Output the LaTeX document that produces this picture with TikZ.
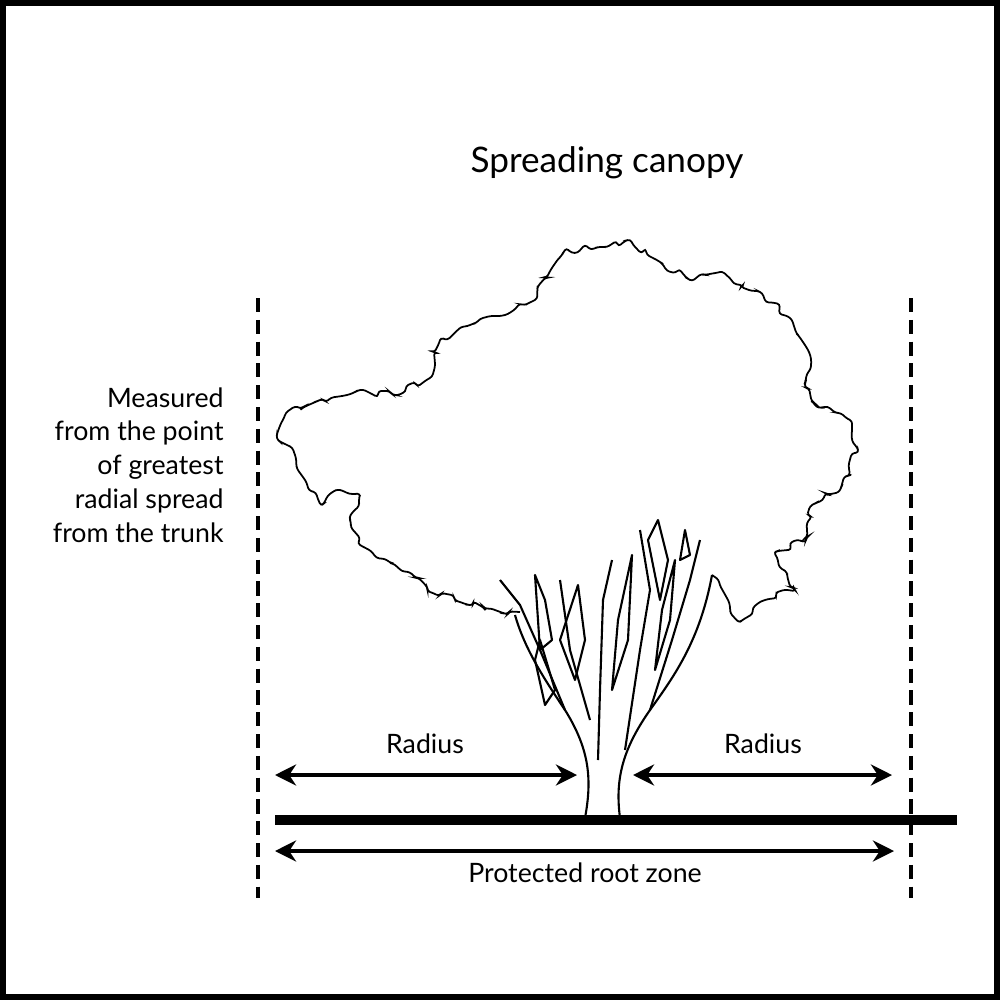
\documentclass[tikz,border=0pt]{standalone}
\usepackage{fontspec}
\setmainfont{Lato}
\usetikzlibrary{decorations.pathmorphing,arrows.meta}
\begin{document}
\begin{tikzpicture}[x=0.01cm,y=-0.01cm,
  dim/.style={line width=1.1pt,{Stealth[length=6pt,width=6pt]}-{Stealth[length=6pt,width=6pt]}},
  vdash/.style={line width=1.2pt,dash pattern=on 4pt off 2.2pt},
  txt/.style={font=\fontsize{7.6}{9.6}\selectfont},
  leaf/.style={line width=0.5pt,decorate,decoration={random steps,segment length=1.8pt,amplitude=1.3pt},rounded corners=0.8pt},
  br/.style={line width=0.6pt,line join=round}]
\useasboundingbox (0,0) rectangle (1000,1000);
\draw[line width=1.7pt] (3,3) rectangle (997,997);
\node[font=\fontsize{10}{12}\selectfont] (title) at (607,163) {Spreading canopy};
\node[txt,align=right,anchor=east] (meas) at (236,465) {Measured\\from the point\\of greatest\\radial spread\\from the trunk};
\coordinate (dlt) at (258,298); \coordinate (dlb) at (258,898);
\coordinate (drt) at (911,298); \coordinate (drb) at (911,898);
\draw[vdash] (dlt) -- (dlb);
\draw[vdash] (drt) -- (drb);
\coordinate (g1) at (275,820); \coordinate (g2) at (957,820);
\draw[line width=3.1pt] (g1) -- (g2);
\coordinate (r1a) at (275,775); \coordinate (r1b) at (577,775);
\coordinate (r2a) at (633,775); \coordinate (r2b) at (892,775);
\coordinate (p1) at (275,851); \coordinate (p2) at (894,851);
\draw[dim] (r1a) -- (r1b);
\draw[dim] (r2a) -- (r2b);
\draw[dim] (p1) -- (p2);
\node[txt] (rad1) at (425,744) {Radius};
\node[txt] (rad2) at (763,744) {Radius};
\node[txt] (prz) at (585,873) {Protected root zone};
% canopy
\draw[leaf] (520,612) -- (470,605) -- (430,592) -- (395,565) -- (360,545) -- (350,520) -- (360,495) -- (340,490) -- (322,505) -- (305,480) -- (295,455) -- (278,440) -- (285,415) -- (320,400) -- (360,390) -- (395,395) -- (430,378) -- (440,340) -- (470,325) -- (505,315) -- (535,300) -- (548,275) -- (565,250) -- (600,247) -- (628,240) -- (660,262) -- (690,280) -- (720,272) -- (760,292) -- (790,318) -- (808,350) -- (805,385) -- (815,405) -- (850,420) -- (858,450) -- (840,490) -- (812,505) -- (806,540) -- (775,552) -- (795,590) -- (765,600) -- (740,622) -- (728,600) -- (712,575);
% trunk
\draw[br] (585,818) .. controls (592,780) and (590,750) .. (565,710) .. controls (545,680) and (525,650) .. (515,615);
\draw[br] (620,818) .. controls (615,780) and (622,750) .. (650,710) .. controls (675,675) and (700,640) .. (712,575);
\draw[br] (565,710) -- (540,650) -- (520,605) -- (500,580);
\draw[br] (590,720) -- (570,650) -- (560,580);
\draw[br] (598,760) -- (600,690) -- (603,600) -- (612,560);
\draw[br] (625,750) -- (640,650) -- (650,590) -- (640,530);
\draw[br] (650,710) -- (672,640) -- (690,580) -- (700,540);
\draw[br] (540,650) -- (535,575) -- (545,600) -- (552,640) -- cycle;
\draw[br] (560,640) -- (578,585) -- (585,640) -- (575,680) -- cycle;
\draw[br] (612,690) -- (618,620) -- (632,555) -- (628,640) -- cycle;
\draw[br] (655,670) -- (662,610) -- (675,560) -- (670,620) -- cycle;
\draw[br] (660,600) -- (648,540) -- (658,520) -- (668,560) -- cycle;
\draw[br] (545,705) -- (535,660) -- (540,640) -- (555,690) -- cycle;
\draw[br] (680,560) -- (685,530) -- (690,555) -- cycle;
\end{tikzpicture}
\end{document}
